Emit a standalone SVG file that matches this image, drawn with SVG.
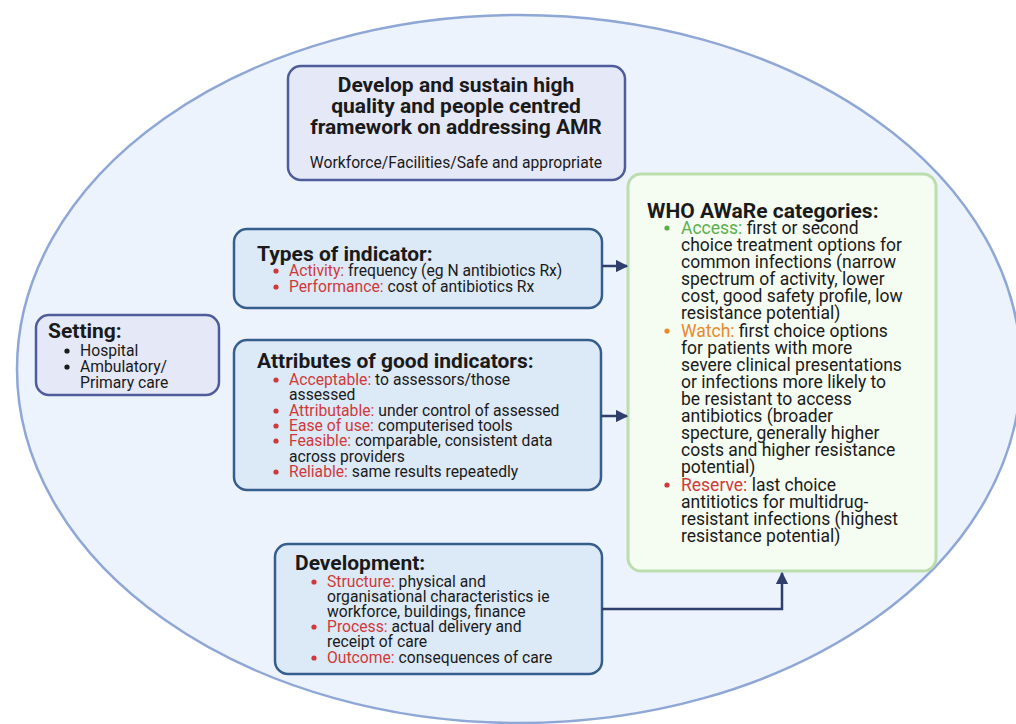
<svg xmlns="http://www.w3.org/2000/svg" width="1016" height="724" viewBox="0 0 1016 724">
<defs>
<marker id="ah" viewBox="0 0 10 10" refX="9" refY="5" markerWidth="5" markerHeight="5" orient="auto" markerUnits="strokeWidth">
<path d="M0,0 L10,5 L0,10 z" fill="#2E3F6E"/>
</marker>
<style>
text{font-family:Roboto,"Liberation Sans",sans-serif;fill:#1a1a1a}
.ttl{font-weight:bold;font-size:21px}
.t{font-size:15.7px}
.w{font-size:17.5px}
.r{fill:#D0393A}
.g{fill:#5BAF4A}
.o{fill:#E8892B}
.bk{fill:#1a1a1a}
.lav{fill:#E5E8F7;stroke:#4F5C9C;stroke-width:2.5}
.blu{fill:#DCE9F7;stroke:#355E8C;stroke-width:2.5}
.grn{fill:#F5FCF2;stroke:#BCDDAE;stroke-width:3}
.con{fill:none;stroke:#2E3F6E;stroke-width:2.5}
</style>
</defs>
<rect width="1016" height="724" fill="#ffffff"/>
<ellipse cx="519" cy="369" rx="502" ry="354" fill="#ECF3FC" stroke="#8EA7D6" stroke-width="2.5"/>

<g id="framework">
<rect class="lav" x="288" y="66" width="337" height="114" rx="13"/>
<text class="ttl" text-anchor="middle" x="456" y="92">Develop and sustain high</text>
<text class="ttl" text-anchor="middle" x="456" y="113">quality and people centred</text>
<text class="ttl" text-anchor="middle" x="456" y="134">framework on addressing AMR</text>
<text class="t" text-anchor="middle" x="456" y="168">Workforce/Facilities/Safe and appropriate</text>
</g>

<g id="setting">
<rect class="lav" x="36" y="315" width="183" height="80" rx="13"/>
<text class="ttl" x="48" y="338">Setting:</text>
<circle class="bk" cx="67" cy="351" r="2.6"/><text class="t" x="80" y="356">Hospital</text>
<circle class="bk" cx="67" cy="367" r="2.6"/><text class="t" x="80" y="372">Ambulatory/</text>
<text class="t" x="80" y="388">Primary care</text>
</g>

<g id="types">
<rect class="blu" x="234" y="229" width="368" height="79" rx="13"/>
<text class="ttl" x="257" y="261">Types of indicator:</text>
<circle class="r" cx="276" cy="271" r="2.6"/><text class="t" x="289" y="276"><tspan class="r">Activity:</tspan> frequency (eg N antibiotics Rx)</text>
<circle class="r" cx="276" cy="287" r="2.6"/><text class="t" x="289" y="292"><tspan class="r">Performance:</tspan> cost of antibiotics Rx</text>
</g>

<g id="attributes">
<rect class="blu" x="234" y="340" width="367" height="150" rx="13"/>
<text class="ttl" x="257" y="368">Attributes of good indicators:</text>
<circle class="r" cx="276" cy="380" r="2.6"/><text class="t" x="289" y="385"><tspan class="r">Acceptable:</tspan> to assessors/those</text>
<text class="t" x="289" y="400">assessed</text>
<circle class="r" cx="276" cy="411" r="2.6"/><text class="t" x="289" y="416"><tspan class="r">Attributable:</tspan> under control of assessed</text>
<circle class="r" cx="276" cy="426" r="2.6"/><text class="t" x="289" y="431"><tspan class="r">Ease of use:</tspan> computerised tools</text>
<circle class="r" cx="276" cy="441" r="2.6"/><text class="t" x="289" y="446"><tspan class="r">Feasible:</tspan> comparable, consistent data</text>
<text class="t" x="289" y="462">across providers</text>
<circle class="r" cx="276" cy="472" r="2.6"/><text class="t" x="289" y="477"><tspan class="r">Reliable:</tspan> same results repeatedly</text>
</g>

<g id="development">
<rect class="blu" x="275" y="544" width="327" height="130" rx="13"/>
<text class="ttl" x="295" y="570">Development:</text>
<circle class="r" cx="314" cy="582" r="2.6"/><text class="t" x="327" y="587"><tspan class="r">Structure:</tspan> physical and</text>
<text class="t" x="327" y="602">organisational characteristics ie</text>
<text class="t" x="327" y="617">workforce, buildings, finance</text>
<circle class="r" cx="314" cy="627" r="2.6"/><text class="t" x="327" y="632"><tspan class="r">Process:</tspan> actual delivery and</text>
<text class="t" x="327" y="647">receipt of care</text>
<circle class="r" cx="314" cy="658" r="2.6"/><text class="t" x="327" y="663"><tspan class="r">Outcome:</tspan> consequences of care</text>
</g>

<g id="aware">
<rect class="grn" x="628" y="174" width="308" height="397" rx="13"/>
<text class="ttl" x="647" y="218">WHO AWaRe categories:</text>
<circle class="g" cx="667" cy="228" r="2.6"/><text class="w" x="681" y="234"><tspan class="g">Access:</tspan> first or second</text>
<text class="w" x="681" y="251">choice treatment options for</text>
<text class="w" x="681" y="268">common infections (narrow</text>
<text class="w" x="681" y="285">spectrum of activity, lower</text>
<text class="w" x="681" y="302">cost, good safety profile, low</text>
<text class="w" x="681" y="319">resistance potential)</text>
<circle class="o" cx="667" cy="331" r="2.6"/><text class="w" x="681" y="337"><tspan class="o">Watch:</tspan> first choice options</text>
<text class="w" x="681" y="354">for patients with more</text>
<text class="w" x="681" y="371">severe clinical presentations</text>
<text class="w" x="681" y="388">or infections more likely to</text>
<text class="w" x="681" y="405">be resistant to access</text>
<text class="w" x="681" y="422">antibiotics (broader</text>
<text class="w" x="681" y="439">specture, generally higher</text>
<text class="w" x="681" y="456">costs and higher resistance</text>
<text class="w" x="681" y="473">potential)</text>
<circle class="r" cx="667" cy="485" r="2.6"/><text class="w" x="681" y="491"><tspan class="r">Reserve:</tspan> last choice</text>
<text class="w" x="681" y="508">antitiotics for multidrug-</text>
<text class="w" x="681" y="525">resistant infections (highest</text>
<text class="w" x="681" y="542">resistance potential)</text>
</g>

<g id="connectors">
<path class="con" d="M602,266 L627,266" marker-end="url(#ah)"/>
<path class="con" d="M601,416 L627,416" marker-end="url(#ah)"/>
<path class="con" d="M602,609 L782,609 L782,573" marker-end="url(#ah)"/>
</g>
</svg>
